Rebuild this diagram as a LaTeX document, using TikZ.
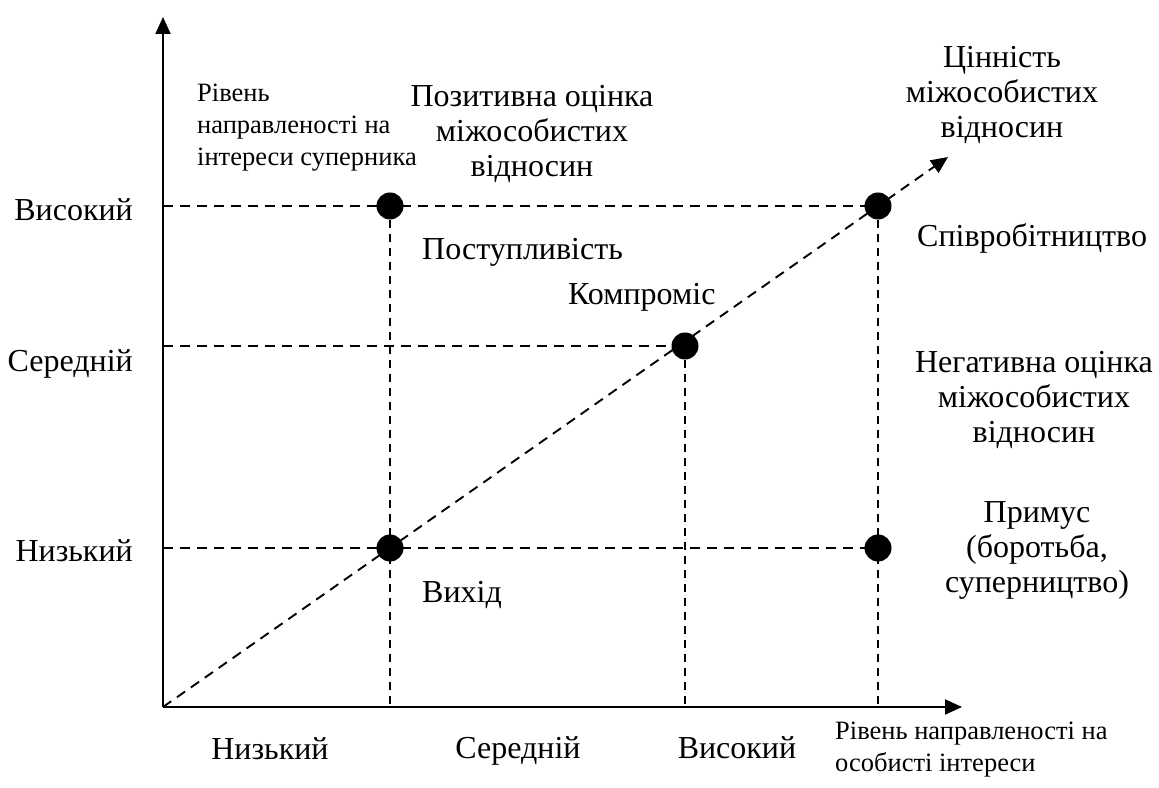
\documentclass[tikz,border=0pt]{standalone}
\usepackage{fontspec}
\setmainfont{Liberation Serif}
\usepackage{tikz}
\usetikzlibrary{arrows.meta, calc, positioning}

\begin{document}
\begin{tikzpicture}[x=1pt, y=1pt,
    axis/.style={line width=2pt, -{Triangle[length=17pt,width=15pt]}},
    guide/.style={line width=1.9pt, dash pattern=on 10pt off 7pt},
    vguide/.style={line width=1.9pt, dash pattern=on 8pt off 6pt},
    dot/.style={circle, fill=black, inner sep=0pt, minimum size=27pt},
    big/.style={font=\fontsize{32}{35}\selectfont, inner sep=0pt},
    small/.style={font=\fontsize{26.5}{32}\selectfont, inner sep=0pt}]
    \useasboundingbox (-163,-80) rectangle (996,707);

    % axes
    \coordinate (O) at (0,0);
    \coordinate (ytip) at (0,690);
    \coordinate (xtip) at (799,0);
    \coordinate (vtip) at (785,550);
    \draw[axis] (O) -- (ytip);
    \draw[axis] (O) -- (xtip);

    % levels on the axes
    \coordinate (yLo) at (0,159);
    \coordinate (yMid) at (0,361);
    \coordinate (yHi) at (0,501);
    \coordinate (xLo) at (227,0);
    \coordinate (xMid) at (522,0);
    \coordinate (xHi) at (715,0);

    % strategy points
    \coordinate (pYield) at (xLo |- yHi);
    \coordinate (pCollab) at (xHi |- yHi);
    \coordinate (pComprom) at (xMid |- yMid);
    \coordinate (pAvoid) at (xLo |- yLo);
    \coordinate (pCompete) at (xHi |- yLo);

    % guide lines
    \draw[guide] (yHi) -- (pCollab);
    \draw[guide] (yMid) -- (pComprom);
    \draw[guide] (yLo) -- (pCompete);
    \draw[vguide] (pYield) -- (xLo);
    \draw[vguide] (pComprom) -- (xMid);
    \draw[vguide] (pCollab) -- (xHi);
    \draw[guide, -{Triangle[length=17pt,width=15pt]}] (O) -- (vtip);

    \node[dot] (yield) at (pYield) {};
    \node[dot] (collab) at (pCollab) {};
    \node[dot] (comprom) at (pComprom) {};
    \node[dot] (avoid) at (pAvoid) {};
    \node[dot] (compete) at (pCompete) {};

    % axis labels
    \node[big, anchor=base east] (yHiLbl) at (-30,486) {Високий};
    \node[big, anchor=base east] (yMidLbl) at (-30,335) {Середній};
    \node[big, anchor=base east] (yLoLbl) at (-30,145) {Низький};
    \node[big, anchor=base] (xLoLbl) at (107,-52) {Низький};
    \node[big, anchor=base] (xMidLbl) at (355,-51) {Середній};
    \node[big, anchor=base] (xHiLbl) at (574,-51) {Високий};
    \node[small, anchor=west, align=left] (yTitle) at (34,579)
        {Рівень\\направленості на\\інтереси суперника};
    \node[small, anchor=west, align=left] (xTitle) at (672,-43)
        {Рівень направленості на\\особисті інтереси};
    \node[big, align=center] (vTitle) at (839,612)
        {Цінність\\міжособистих\\відносин};

    % strategy labels
    \node[big, anchor=west] (yieldLbl) at (259,455) {Поступливість};
    \node[big, anchor=west] (compromLbl) at (405,410) {Компроміс};
    \node[big, anchor=west] (avoidLbl) at (259,112) {Вихід};
    \node[big, anchor=west] (collabLbl) at (754,469) {Співробітництво};
    \node[big, align=center] (competeLbl) at (874,157)
        {Примус\\(боротьба,\\суперництво)};
    \node[big, align=center] (posLbl) at (369,573)
        {Позитивна оцінка\\міжособистих\\відносин};
    \node[big, align=center] (negLbl) at (871,307)
        {Негативна оцінка\\міжособистих\\відносин};
\end{tikzpicture}
\end{document}
